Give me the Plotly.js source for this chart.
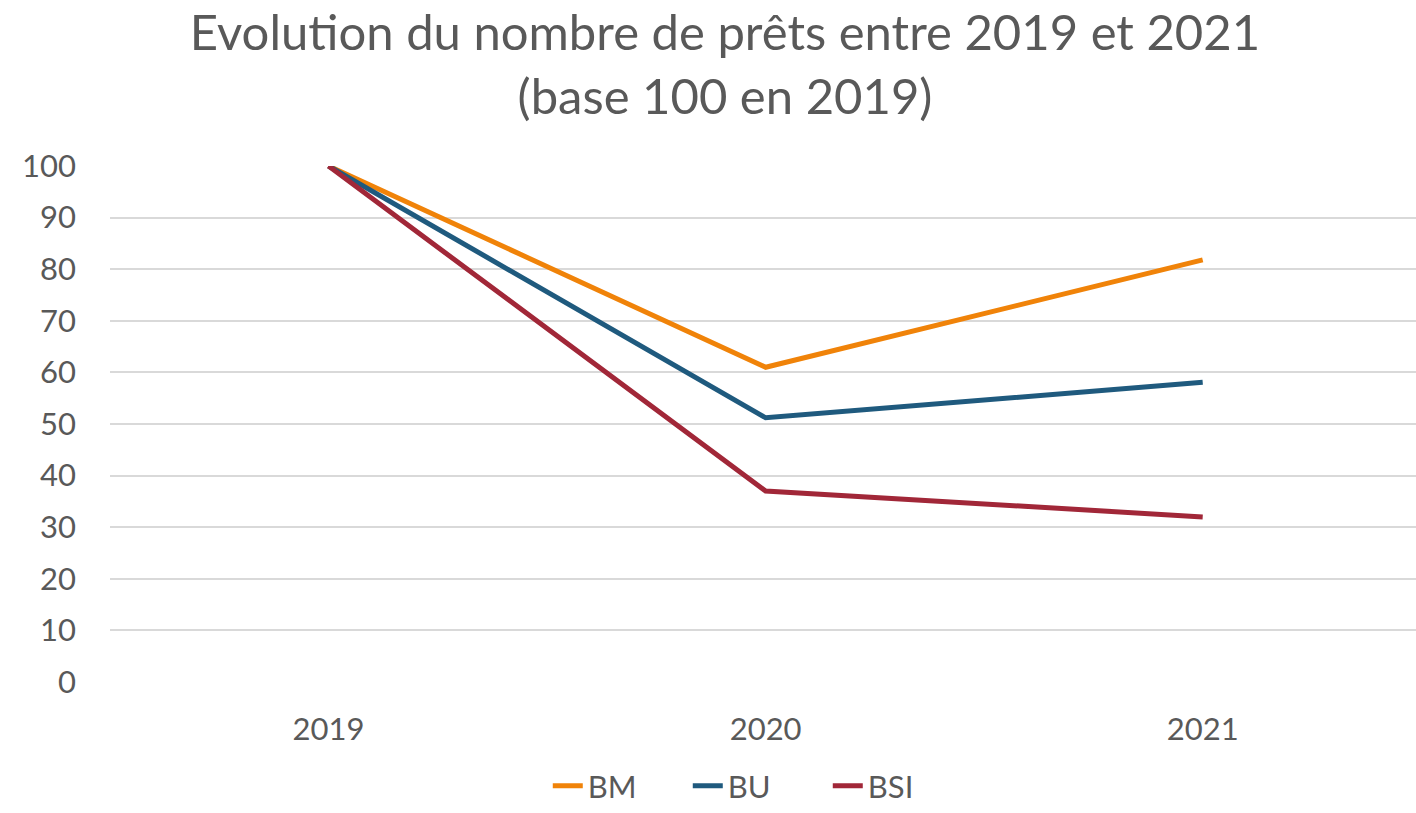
<!DOCTYPE html>
<html>
<head>
<meta charset="utf-8">
<script src="https://cdn.plot.ly/plotly-3.0.1.min.js"></script>
<style>
  html, body { margin: 0; padding: 0; background: #fff; }
  #chart { width: 1416px; height: 813px; }
</style>
</head>
<body>
<div id="chart"></div>
<script>
const years = ['2019', '2020', '2021'];
const bm = [100, 61, 81.8];
const bu = [100, 51.2, 58.1];
const bsi = [100, 37, 32];

const seriesNames = ['BM', 'BU', 'BSI'];
const seriesColors = ['#F08309', '#1F5A7E', '#A12738'];

const traces = [bm, bu, bsi].map((vals, i) => ({
  x: years,
  y: vals,
  name: seriesNames[i],
  type: 'scatter',
  mode: 'lines',
  line: { color: seriesColors[i], width: 5 },
}));

const font = 'Lato, "Open Sans", sans-serif';
const layout = {
  width: 1416,
  height: 813,
  font: { family: font, color: '#595959', size: 31 },
  title: {
    text: 'Evolution du nombre de prêts entre 2019 et 2021<br>(base 100 en 2019)',
    font: { family: font, size: 49, color: '#595959' },
    x: 0.512,
    xanchor: 'center',
    yref: 'container',
    y: 0.938,
    yanchor: 'top',
  },
  margin: { l: 110, r: 0, t: 166, b: 131 },
  xaxis: {
    type: 'category',
    range: [-0.5, 2.488],
    showgrid: false,
    zeroline: false,
    showline: false,
    ticks: '',
    ticklabelstandoff: 26,
    tickfont: { size: 31, color: '#595959' },
  },
  yaxis: {
    range: [0, 100],
    dtick: 10,
    showgrid: true,
    gridcolor: '#D9D9D9',
    gridwidth: 2,
    zeroline: false,
    showline: false,
    ticks: '',
    ticklabelstandoff: 33,
    tickfont: { size: 31, color: '#595959' },
  },
  showlegend: true,
  legend: {
    orientation: 'h',
    x: 0.496,
    xanchor: 'center',
    yref: 'container',
    y: -0.01,
    yanchor: 'bottom',
    font: { size: 31, color: '#595959' },
    entrywidth: 95,
  },
  plot_bgcolor: '#fff',
  paper_bgcolor: '#fff',
};

Plotly.newPlot('chart', traces, layout, { displayModeBar: false, staticPlot: true });
</script>
</body>
</html>
